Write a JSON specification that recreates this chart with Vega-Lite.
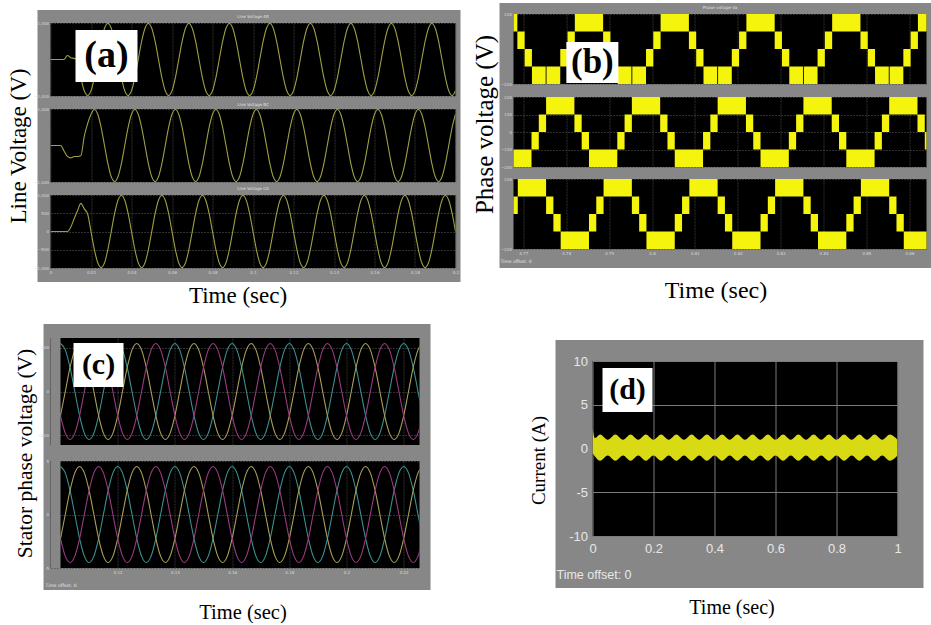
{
"$schema": "https://vega.github.io/schema/vega-lite/v6.json",
"padding": {"left": 6.5, "top": 3, "right": 0, "bottom": 0},
"background": "#ffffff",
"config": {
  "view": {"stroke": null},
  "concat": {"spacing": 0},
  "axis": {"domain": false, "ticks": false, "labelFont": "DejaVu Sans", "labelFontSize": 4, "labelColor": "#dcdcdc", "labelPadding": 2, "labelFlush": false, "gridColor": "#505050", "gridWidth": 0.6, "gridDash": [2, 1], "titleFont": "Liberation Serif", "titleFontWeight": "normal", "titleColor": "#000000", "titleBaseline": "middle"},
  "title": {"font": "DejaVu Sans", "fontSize": 4, "fontWeight": "normal", "color": "#e0e0e0", "offset": 2, "frame": "group"}
},
"datasets": {
"A": [
{"t":0,"p":0,"q":0,"r":0},{"t":0.00167,"p":0,"q":0,"r":0},{"t":0.00333,"p":0,"q":0,"r":0},{"t":0.005,"p":0,"q":0,"r":0},{"t":0.00667,"p":0,"q":-150,"r":0},{"t":0.00833,"p":110,"q":-300,"r":0},{"t":0.01,"p":50,"q":-340,"r":120},{"t":0.01167,"p":30,"q":-300,"r":350},{"t":0.01333,"p":0,"q":-300,"r":570},{"t":0.015,"p":-495,"q":-280,"r":770},{"t":0.01667,"p":-857,"q":250,"r":620},{"t":0.01833,"p":-990,"q":600,"r":480},
{"t":0.02,"p":-857,"q":857,"r":0},{"t":0.02167,"p":-495,"q":990,"r":-495},{"t":0.02333,"p":0,"q":857,"r":-857},{"t":0.025,"p":495,"q":495,"r":-990},{"t":0.02667,"p":857,"q":0,"r":-857},{"t":0.02833,"p":990,"q":-495,"r":-495},{"t":0.03,"p":857,"q":-857,"r":0},{"t":0.03167,"p":495,"q":-990,"r":495},{"t":0.03333,"p":0,"q":-857,"r":857},{"t":0.035,"p":-495,"q":-495,"r":990},{"t":0.03667,"p":-857,"q":0,"r":857},{"t":0.03833,"p":-990,"q":495,"r":495},
{"t":0.04,"p":-857,"q":857,"r":0},{"t":0.04167,"p":-495,"q":990,"r":-495},{"t":0.04333,"p":0,"q":857,"r":-857},{"t":0.045,"p":495,"q":495,"r":-990},{"t":0.04667,"p":857,"q":0,"r":-857},{"t":0.04833,"p":990,"q":-495,"r":-495},{"t":0.05,"p":857,"q":-857,"r":0},{"t":0.05167,"p":495,"q":-990,"r":495},{"t":0.05333,"p":0,"q":-857,"r":857},{"t":0.055,"p":-495,"q":-495,"r":990},{"t":0.05667,"p":-857,"q":0,"r":857},{"t":0.05833,"p":-990,"q":495,"r":495},
{"t":0.06,"p":-857,"q":857,"r":0},{"t":0.06167,"p":-495,"q":990,"r":-495},{"t":0.06333,"p":0,"q":857,"r":-857},{"t":0.065,"p":495,"q":495,"r":-990},{"t":0.06667,"p":857,"q":0,"r":-857},{"t":0.06833,"p":990,"q":-495,"r":-495},{"t":0.07,"p":857,"q":-857,"r":0},{"t":0.07167,"p":495,"q":-990,"r":495},{"t":0.07333,"p":0,"q":-857,"r":857},{"t":0.075,"p":-495,"q":-495,"r":990},{"t":0.07667,"p":-857,"q":0,"r":857},{"t":0.07833,"p":-990,"q":495,"r":495},
{"t":0.08,"p":-857,"q":857,"r":0},{"t":0.08167,"p":-495,"q":990,"r":-495},{"t":0.08333,"p":0,"q":857,"r":-857},{"t":0.085,"p":495,"q":495,"r":-990},{"t":0.08667,"p":857,"q":0,"r":-857},{"t":0.08833,"p":990,"q":-495,"r":-495},{"t":0.09,"p":857,"q":-857,"r":0},{"t":0.09167,"p":495,"q":-990,"r":495},{"t":0.09333,"p":0,"q":-857,"r":857},{"t":0.095,"p":-495,"q":-495,"r":990},{"t":0.09667,"p":-857,"q":0,"r":857},{"t":0.09833,"p":-990,"q":495,"r":495},
{"t":0.1,"p":-857,"q":857,"r":0},{"t":0.10167,"p":-495,"q":990,"r":-495},{"t":0.10333,"p":0,"q":857,"r":-857},{"t":0.105,"p":495,"q":495,"r":-990},{"t":0.10667,"p":857,"q":0,"r":-857},{"t":0.10833,"p":990,"q":-495,"r":-495},{"t":0.11,"p":857,"q":-857,"r":0},{"t":0.11167,"p":495,"q":-990,"r":495},{"t":0.11333,"p":0,"q":-857,"r":857},{"t":0.115,"p":-495,"q":-495,"r":990},{"t":0.11667,"p":-857,"q":0,"r":857},{"t":0.11833,"p":-990,"q":495,"r":495},
{"t":0.12,"p":-857,"q":857,"r":0},{"t":0.12167,"p":-495,"q":990,"r":-495},{"t":0.12333,"p":0,"q":857,"r":-857},{"t":0.125,"p":495,"q":495,"r":-990},{"t":0.12667,"p":857,"q":0,"r":-857},{"t":0.12833,"p":990,"q":-495,"r":-495},{"t":0.13,"p":857,"q":-857,"r":0},{"t":0.13167,"p":495,"q":-990,"r":495},{"t":0.13333,"p":0,"q":-857,"r":857},{"t":0.135,"p":-495,"q":-495,"r":990},{"t":0.13667,"p":-857,"q":0,"r":857},{"t":0.13833,"p":-990,"q":495,"r":495},
{"t":0.14,"p":-857,"q":857,"r":0},{"t":0.14167,"p":-495,"q":990,"r":-495},{"t":0.14333,"p":0,"q":857,"r":-857},{"t":0.145,"p":495,"q":495,"r":-990},{"t":0.14667,"p":857,"q":0,"r":-857},{"t":0.14833,"p":990,"q":-495,"r":-495},{"t":0.15,"p":857,"q":-857,"r":0},{"t":0.15167,"p":495,"q":-990,"r":495},{"t":0.15333,"p":0,"q":-857,"r":857},{"t":0.155,"p":-495,"q":-495,"r":990},{"t":0.15667,"p":-857,"q":0,"r":857},{"t":0.15833,"p":-990,"q":495,"r":495},
{"t":0.16,"p":-857,"q":857,"r":0},{"t":0.16167,"p":-495,"q":990,"r":-495},{"t":0.16333,"p":0,"q":857,"r":-857},{"t":0.165,"p":495,"q":495,"r":-990},{"t":0.16667,"p":857,"q":0,"r":-857},{"t":0.16833,"p":990,"q":-495,"r":-495},{"t":0.17,"p":857,"q":-857,"r":0},{"t":0.17167,"p":495,"q":-990,"r":495},{"t":0.17333,"p":0,"q":-857,"r":857},{"t":0.175,"p":-495,"q":-495,"r":990},{"t":0.17667,"p":-857,"q":0,"r":857},{"t":0.17833,"p":-990,"q":495,"r":495},
{"t":0.18,"p":-857,"q":857,"r":0},{"t":0.18167,"p":-495,"q":990,"r":-495},{"t":0.18333,"p":0,"q":857,"r":-857},{"t":0.185,"p":495,"q":495,"r":-990},{"t":0.18667,"p":857,"q":0,"r":-857},{"t":0.18833,"p":990,"q":-495,"r":-495},{"t":0.19,"p":857,"q":-857,"r":0},{"t":0.19167,"p":495,"q":-990,"r":495},{"t":0.19333,"p":0,"q":-857,"r":857},{"t":0.195,"p":-495,"q":-495,"r":990},{"t":0.19667,"p":-857,"q":0,"r":857},{"t":0.19833,"p":-990,"q":495,"r":495},
{"t":0.2,"p":-857,"q":857,"r":0}
],
"C": [
{"t":0.1,"q":220,"o":-110,"m":-110},{"t":0.10167,"q":190.5,"o":0,"m":-190.5},{"t":0.10333,"q":110,"o":110,"m":-220},{"t":0.105,"q":0,"o":190.5,"m":-190.5},{"t":0.10667,"q":-110,"o":220,"m":-110},{"t":0.10833,"q":-190.5,"o":190.5,"m":0},{"t":0.11,"q":-220,"o":110,"m":110},{"t":0.11167,"q":-190.5,"o":0,"m":190.5},{"t":0.11333,"q":-110,"o":-110,"m":220},{"t":0.115,"q":0,"o":-190.5,"m":190.5},{"t":0.11667,"q":110,"o":-220,"m":110},{"t":0.11833,"q":190.5,"o":-190.5,"m":0},
{"t":0.12,"q":220,"o":-110,"m":-110},{"t":0.12167,"q":190.5,"o":0,"m":-190.5},{"t":0.12333,"q":110,"o":110,"m":-220},{"t":0.125,"q":0,"o":190.5,"m":-190.5},{"t":0.12667,"q":-110,"o":220,"m":-110},{"t":0.12833,"q":-190.5,"o":190.5,"m":0},{"t":0.13,"q":-220,"o":110,"m":110},{"t":0.13167,"q":-190.5,"o":0,"m":190.5},{"t":0.13333,"q":-110,"o":-110,"m":220},{"t":0.135,"q":0,"o":-190.5,"m":190.5},{"t":0.13667,"q":110,"o":-220,"m":110},{"t":0.13833,"q":190.5,"o":-190.5,"m":0},
{"t":0.14,"q":220,"o":-110,"m":-110},{"t":0.14167,"q":190.5,"o":0,"m":-190.5},{"t":0.14333,"q":110,"o":110,"m":-220},{"t":0.145,"q":0,"o":190.5,"m":-190.5},{"t":0.14667,"q":-110,"o":220,"m":-110},{"t":0.14833,"q":-190.5,"o":190.5,"m":0},{"t":0.15,"q":-220,"o":110,"m":110},{"t":0.15167,"q":-190.5,"o":0,"m":190.5},{"t":0.15333,"q":-110,"o":-110,"m":220},{"t":0.155,"q":0,"o":-190.5,"m":190.5},{"t":0.15667,"q":110,"o":-220,"m":110},{"t":0.15833,"q":190.5,"o":-190.5,"m":0},
{"t":0.16,"q":220,"o":-110,"m":-110},{"t":0.16167,"q":190.5,"o":0,"m":-190.5},{"t":0.16333,"q":110,"o":110,"m":-220},{"t":0.165,"q":0,"o":190.5,"m":-190.5},{"t":0.16667,"q":-110,"o":220,"m":-110},{"t":0.16833,"q":-190.5,"o":190.5,"m":0},{"t":0.17,"q":-220,"o":110,"m":110},{"t":0.17167,"q":-190.5,"o":0,"m":190.5},{"t":0.17333,"q":-110,"o":-110,"m":220},{"t":0.175,"q":0,"o":-190.5,"m":190.5},{"t":0.17667,"q":110,"o":-220,"m":110},{"t":0.17833,"q":190.5,"o":-190.5,"m":0},
{"t":0.18,"q":220,"o":-110,"m":-110},{"t":0.18167,"q":190.5,"o":0,"m":-190.5},{"t":0.18333,"q":110,"o":110,"m":-220},{"t":0.185,"q":0,"o":190.5,"m":-190.5},{"t":0.18667,"q":-110,"o":220,"m":-110},{"t":0.18833,"q":-190.5,"o":190.5,"m":0},{"t":0.19,"q":-220,"o":110,"m":110},{"t":0.19167,"q":-190.5,"o":0,"m":190.5},{"t":0.19333,"q":-110,"o":-110,"m":220},{"t":0.195,"q":0,"o":-190.5,"m":190.5},{"t":0.19667,"q":110,"o":-220,"m":110},{"t":0.19833,"q":190.5,"o":-190.5,"m":0},
{"t":0.2,"q":220,"o":-110,"m":-110},{"t":0.20167,"q":190.5,"o":0,"m":-190.5},{"t":0.20333,"q":110,"o":110,"m":-220},{"t":0.205,"q":0,"o":190.5,"m":-190.5},{"t":0.20667,"q":-110,"o":220,"m":-110},{"t":0.20833,"q":-190.5,"o":190.5,"m":0},{"t":0.21,"q":-220,"o":110,"m":110},{"t":0.21167,"q":-190.5,"o":0,"m":190.5},{"t":0.21333,"q":-110,"o":-110,"m":220},{"t":0.215,"q":0,"o":-190.5,"m":190.5},{"t":0.21667,"q":110,"o":-220,"m":110},{"t":0.21833,"q":190.5,"o":-190.5,"m":0},
{"t":0.22,"q":220,"o":-110,"m":-110},{"t":0.22167,"q":190.5,"o":0,"m":-190.5},{"t":0.22333,"q":110,"o":110,"m":-220},{"t":0.225,"q":0,"o":190.5,"m":-190.5},{"t":0.22667,"q":-110,"o":220,"m":-110}
],
"B": [
{"s":"b1","a":0.762,"b":0.7686,"l":100,"h":200},{"s":"b1","a":0.7686,"b":0.7703,"l":0,"h":100},{"s":"b1","a":0.7703,"b":0.772,"l":-100,"h":0},{"s":"b1","a":0.772,"b":0.7752,"l":-200,"h":-100},{"s":"b1","a":0.7754,"b":0.7786,"l":-200,"h":-100},{"s":"b1","a":0.7786,"b":0.7803,"l":-100,"h":0},{"s":"b1","a":0.7803,"b":0.782,"l":0,"h":100},
{"s":"b1","a":0.782,"b":0.7886,"l":100,"h":200},{"s":"b1","a":0.7886,"b":0.7903,"l":0,"h":100},{"s":"b1","a":0.7903,"b":0.792,"l":-100,"h":0},{"s":"b1","a":0.792,"b":0.7952,"l":-200,"h":-100},{"s":"b1","a":0.7954,"b":0.7986,"l":-200,"h":-100},{"s":"b1","a":0.7986,"b":0.8003,"l":-100,"h":0},{"s":"b1","a":0.8003,"b":0.802,"l":0,"h":100},
{"s":"b1","a":0.802,"b":0.8086,"l":100,"h":200},{"s":"b1","a":0.8086,"b":0.8103,"l":0,"h":100},{"s":"b1","a":0.8103,"b":0.812,"l":-100,"h":0},{"s":"b1","a":0.812,"b":0.8152,"l":-200,"h":-100},{"s":"b1","a":0.8154,"b":0.8186,"l":-200,"h":-100},{"s":"b1","a":0.8186,"b":0.8203,"l":-100,"h":0},{"s":"b1","a":0.8203,"b":0.822,"l":0,"h":100},
{"s":"b1","a":0.822,"b":0.8286,"l":100,"h":200},{"s":"b1","a":0.8286,"b":0.8303,"l":0,"h":100},{"s":"b1","a":0.8303,"b":0.832,"l":-100,"h":0},{"s":"b1","a":0.832,"b":0.8352,"l":-200,"h":-100},{"s":"b1","a":0.8354,"b":0.8386,"l":-200,"h":-100},{"s":"b1","a":0.8386,"b":0.8403,"l":-100,"h":0},{"s":"b1","a":0.8403,"b":0.842,"l":0,"h":100},
{"s":"b1","a":0.842,"b":0.8486,"l":100,"h":200},{"s":"b1","a":0.8486,"b":0.8503,"l":0,"h":100},{"s":"b1","a":0.8503,"b":0.852,"l":-100,"h":0},{"s":"b1","a":0.852,"b":0.8552,"l":-200,"h":-100},{"s":"b1","a":0.8554,"b":0.8586,"l":-200,"h":-100},{"s":"b1","a":0.8586,"b":0.8603,"l":-100,"h":0},{"s":"b1","a":0.8603,"b":0.862,"l":0,"h":100},
{"s":"b1","a":0.862,"b":0.8686,"l":100,"h":200},
{"s":"b2","a":0.7653,"b":0.7719,"l":-200,"h":-100},{"s":"b2","a":0.7719,"b":0.7736,"l":-100,"h":0},{"s":"b2","a":0.7736,"b":0.7753,"l":0,"h":100},
{"s":"b2","a":0.7753,"b":0.7819,"l":100,"h":200},{"s":"b2","a":0.7819,"b":0.7836,"l":0,"h":100},{"s":"b2","a":0.7836,"b":0.7853,"l":-100,"h":0},{"s":"b2","a":0.7853,"b":0.7919,"l":-200,"h":-100},{"s":"b2","a":0.7919,"b":0.7936,"l":-100,"h":0},{"s":"b2","a":0.7936,"b":0.7953,"l":0,"h":100},
{"s":"b2","a":0.7953,"b":0.8019,"l":100,"h":200},{"s":"b2","a":0.8019,"b":0.8036,"l":0,"h":100},{"s":"b2","a":0.8036,"b":0.8053,"l":-100,"h":0},{"s":"b2","a":0.8053,"b":0.8119,"l":-200,"h":-100},{"s":"b2","a":0.8119,"b":0.8136,"l":-100,"h":0},{"s":"b2","a":0.8136,"b":0.8153,"l":0,"h":100},
{"s":"b2","a":0.8153,"b":0.8219,"l":100,"h":200},{"s":"b2","a":0.8219,"b":0.8236,"l":0,"h":100},{"s":"b2","a":0.8236,"b":0.8253,"l":-100,"h":0},{"s":"b2","a":0.8253,"b":0.8319,"l":-200,"h":-100},{"s":"b2","a":0.8319,"b":0.8336,"l":-100,"h":0},{"s":"b2","a":0.8336,"b":0.8353,"l":0,"h":100},
{"s":"b2","a":0.8353,"b":0.8419,"l":100,"h":200},{"s":"b2","a":0.8419,"b":0.8436,"l":0,"h":100},{"s":"b2","a":0.8436,"b":0.8453,"l":-100,"h":0},{"s":"b2","a":0.8453,"b":0.8519,"l":-200,"h":-100},{"s":"b2","a":0.8519,"b":0.8536,"l":-100,"h":0},{"s":"b2","a":0.8536,"b":0.8553,"l":0,"h":100},
{"s":"b2","a":0.8553,"b":0.8619,"l":100,"h":200},{"s":"b2","a":0.8619,"b":0.8636,"l":0,"h":100},{"s":"b2","a":0.8636,"b":0.8653,"l":-100,"h":0},
{"s":"b3","a":0.767,"b":0.7687,"l":0,"h":100},
{"s":"b3","a":0.7687,"b":0.7753,"l":100,"h":200},{"s":"b3","a":0.7753,"b":0.777,"l":0,"h":100},{"s":"b3","a":0.777,"b":0.7787,"l":-100,"h":0},{"s":"b3","a":0.7787,"b":0.7853,"l":-200,"h":-100},{"s":"b3","a":0.7853,"b":0.787,"l":-100,"h":0},{"s":"b3","a":0.787,"b":0.7887,"l":0,"h":100},
{"s":"b3","a":0.7887,"b":0.7953,"l":100,"h":200},{"s":"b3","a":0.7953,"b":0.797,"l":0,"h":100},{"s":"b3","a":0.797,"b":0.7987,"l":-100,"h":0},{"s":"b3","a":0.7987,"b":0.8053,"l":-200,"h":-100},{"s":"b3","a":0.8053,"b":0.807,"l":-100,"h":0},{"s":"b3","a":0.807,"b":0.8087,"l":0,"h":100},
{"s":"b3","a":0.8087,"b":0.8153,"l":100,"h":200},{"s":"b3","a":0.8153,"b":0.817,"l":0,"h":100},{"s":"b3","a":0.817,"b":0.8187,"l":-100,"h":0},{"s":"b3","a":0.8187,"b":0.8253,"l":-200,"h":-100},{"s":"b3","a":0.8253,"b":0.827,"l":-100,"h":0},{"s":"b3","a":0.827,"b":0.8287,"l":0,"h":100},
{"s":"b3","a":0.8287,"b":0.8353,"l":100,"h":200},{"s":"b3","a":0.8353,"b":0.837,"l":0,"h":100},{"s":"b3","a":0.837,"b":0.8387,"l":-100,"h":0},{"s":"b3","a":0.8387,"b":0.8453,"l":-200,"h":-100},{"s":"b3","a":0.8453,"b":0.847,"l":-100,"h":0},{"s":"b3","a":0.847,"b":0.8487,"l":0,"h":100},
{"s":"b3","a":0.8487,"b":0.8553,"l":100,"h":200},{"s":"b3","a":0.8553,"b":0.857,"l":0,"h":100},{"s":"b3","a":0.857,"b":0.8587,"l":-100,"h":0},{"s":"b3","a":0.8587,"b":0.8653,"l":-200,"h":-100}
],
"D": [
{"t":0,"h":2.3,"l":-0.5},{"t":0.008,"h":1.2,"l":-0.9},
{"t":0.025,"h":1.6,"l":-1.4},{"t":0.05,"h":1.0,"l":-0.8},{"t":0.075,"h":1.6,"l":-1.4},{"t":0.1,"h":1.0,"l":-0.8},{"t":0.125,"h":1.6,"l":-1.4},{"t":0.15,"h":1.0,"l":-0.8},{"t":0.175,"h":1.6,"l":-1.4},{"t":0.2,"h":1.0,"l":-0.8},
{"t":0.225,"h":1.6,"l":-1.4},{"t":0.25,"h":1.0,"l":-0.8},{"t":0.275,"h":1.6,"l":-1.4},{"t":0.3,"h":1.0,"l":-0.8},{"t":0.325,"h":1.6,"l":-1.4},{"t":0.35,"h":1.0,"l":-0.8},{"t":0.375,"h":1.6,"l":-1.4},{"t":0.4,"h":1.0,"l":-0.8},
{"t":0.425,"h":1.6,"l":-1.4},{"t":0.45,"h":1.0,"l":-0.8},{"t":0.475,"h":1.6,"l":-1.4},{"t":0.5,"h":1.0,"l":-0.8},{"t":0.525,"h":1.6,"l":-1.4},{"t":0.55,"h":1.0,"l":-0.8},{"t":0.575,"h":1.6,"l":-1.4},{"t":0.6,"h":1.0,"l":-0.8},
{"t":0.625,"h":1.6,"l":-1.4},{"t":0.65,"h":1.0,"l":-0.8},{"t":0.675,"h":1.6,"l":-1.4},{"t":0.7,"h":1.0,"l":-0.8},{"t":0.725,"h":1.6,"l":-1.4},{"t":0.75,"h":1.0,"l":-0.8},{"t":0.775,"h":1.6,"l":-1.4},{"t":0.8,"h":1.0,"l":-0.8},
{"t":0.825,"h":1.6,"l":-1.4},{"t":0.85,"h":1.0,"l":-0.8},{"t":0.875,"h":1.6,"l":-1.4},{"t":0.9,"h":1.0,"l":-0.8},{"t":0.925,"h":1.6,"l":-1.4},{"t":0.95,"h":1.0,"l":-0.8},{"t":0.975,"h":1.6,"l":-1.4},{"t":1.0,"h":1.0,"l":-0.8}
]
},
"spacing": 17,
"vconcat": [
{"spacing": 10, "hconcat": [
  {"spacing": 0, "bounds": "flush", "vconcat": [
    {"width": 405, "height": 20, "data": {"values": [{}]}, "mark": {"type": "rect", "color": "#878787", "clip": false},
     "encoding": {"x": {"datum": -0.00642, "scale": {"domain": [0, 0.2], "nice": false, "zero": false}, "axis": null}, "x2": {"datum": 0.20247},
                  "y": {"datum": -6097, "scale": {"domain": [1000, 1548], "nice": false, "zero": false}, "axis": null}, "y2": {"datum": 1356}}},
    {"width": 405, "height": 73, "view": {"fill": "#000000"}, "title": "Line Voltage AB", "layer": [
      {"data": {"name": "A"}, "mark": {"type": "line", "color": "#a09f44", "strokeWidth": 1.1, "interpolate": "monotone", "clip": true},
       "encoding": {"x": {"field": "t", "type": "quantitative", "scale": {"domain": [0, 0.2], "nice": false, "zero": false}, "axis": {"values": [0,0.02,0.04,0.06,0.08,0.1,0.12,0.14,0.16,0.18,0.2], "labels": false, "title": null}},
                    "y": {"field": "p", "type": "quantitative", "scale": {"domain": [-1000, 1000], "nice": false, "zero": false}, "axis": {"values": [-1000,-500,0,500,1000], "title": null}}}},
      {"data": {"values": [{}]}, "mark": {"type": "rect", "color": "#ffffff"}, "encoding": {"x": {"datum": 0.01235}, "x2": {"datum": 0.04296}, "y": {"datum": -617}, "y2": {"datum": 808}}},
      {"data": {"values": [{}]}, "mark": {"type": "text", "text": "(a)", "font": "Liberation Serif", "fontWeight": "bold", "fontSize": 38, "color": "#000000", "baseline": "middle", "align": "center"}, "encoding": {"x": {"datum": 0.02765}, "y": {"datum": 96}}}
    ]},
    {"width": 1, "height": 13, "data": {"values": []}, "mark": "point"},
    {"width": 405, "height": 73, "view": {"fill": "#000000"}, "layer": [
      {"data": {"name": "A"}, "mark": {"type": "line", "color": "#a09f44", "strokeWidth": 1.1, "interpolate": "monotone", "clip": true},
       "encoding": {"x": {"field": "t", "type": "quantitative", "scale": {"domain": [0, 0.2], "nice": false, "zero": false}, "axis": {"values": [0,0.02,0.04,0.06,0.08,0.1,0.12,0.14,0.16,0.18,0.2], "labels": false, "title": null}},
                    "y": {"field": "q", "type": "quantitative", "scale": {"domain": [-1000, 1000], "nice": false, "zero": false}, "axis": {"values": [-1000,-500,0,500,1000], "title": "Line Voltage (V)", "titleX": -32, "titleY": 36.5, "titleFontSize": 23}}}},
      {"data": {"values": [{}]}, "mark": {"type": "text", "text": "Line Voltage BC", "font": "DejaVu Sans", "fontSize": 4, "color": "#e0e0e0", "baseline": "middle", "align": "center"}, "encoding": {"x": {"datum": 0.1}, "y": {"datum": 1123}}}
    ]},
    {"width": 1, "height": 13, "data": {"values": []}, "mark": "point"},
    {"width": 405, "height": 73, "view": {"fill": "#000000"}, "title": "Line Voltage CA", "layer": [
      {"data": {"name": "A"}, "mark": {"type": "line", "color": "#a09f44", "strokeWidth": 1.1, "interpolate": "monotone", "clip": true},
       "encoding": {"x": {"field": "t", "type": "quantitative", "scale": {"domain": [0, 0.2], "nice": false, "zero": false}, "axis": {"values": [0,0.02,0.04,0.06,0.08,0.1,0.12,0.14,0.16,0.18,0.2], "format": "~g", "title": "Time (sec)", "titleX": 187, "titleY": 27, "titleFontSize": 23}},
                    "y": {"field": "r", "type": "quantitative", "scale": {"domain": [-1000, 1000], "nice": false, "zero": false}, "axis": {"values": [-1000,-500,0,500,1000], "title": null}}}}
    ]}
  ]},
  {"spacing": 0, "bounds": "flush", "vconcat": [
    {"width": 413, "height": 11, "data": {"values": [{}]}, "mark": {"type": "rect", "color": "#878787", "clip": false},
     "encoding": {"x": {"datum": 0.76444, "scale": {"domain": [0.7677, 0.864], "nice": false, "zero": false}, "axis": null}, "x2": {"datum": 0.8653},
                  "y": {"datum": -1251, "scale": {"domain": [200, 262.86], "nice": false, "zero": false}, "axis": null}, "y2": {"datum": 262.86}}},
    {"width": 413, "height": 70, "view": {"fill": "#000000"}, "title": "Phase voltage Va", "layer": [
      {"data": {"name": "B"}, "transform": [{"filter": "datum.s == 'b1'"}], "mark": {"type": "rect", "color": "#f4f40c", "clip": true},
       "encoding": {"x": {"field": "a", "type": "quantitative", "scale": {"domain": [0.7677, 0.864], "nice": false, "zero": false}, "axis": {"values": [0.77,0.78,0.79,0.8,0.81,0.82,0.83,0.84,0.85,0.86], "labels": false, "title": null}}, "x2": {"field": "b"},
                    "y": {"field": "l", "type": "quantitative", "scale": {"domain": [-200, 200], "nice": false, "zero": false}, "axis": {"values": [-200,-100,0,100,200], "title": null}}, "y2": {"field": "h"}}},
      {"data": {"values": [{}]}, "mark": {"type": "rect", "color": "#ffffff"}, "encoding": {"x": {"datum": 0.78003}, "x2": {"datum": 0.79215}, "y": {"datum": -194}, "y2": {"datum": 40}}},
      {"data": {"values": [{}]}, "mark": {"type": "text", "text": "(b)", "font": "Liberation Serif", "fontWeight": "bold", "fontSize": 35, "color": "#000000", "baseline": "middle", "align": "center"}, "encoding": {"x": {"datum": 0.78609}, "y": {"datum": -77}}}
    ]},
    {"width": 1, "height": 13, "data": {"values": []}, "mark": "point"},
    {"width": 413, "height": 70, "view": {"fill": "#000000"}, "layer": [
      {"data": {"name": "B"}, "transform": [{"filter": "datum.s == 'b2'"}], "mark": {"type": "rect", "color": "#f4f40c", "clip": true},
       "encoding": {"x": {"field": "a", "type": "quantitative", "scale": {"domain": [0.7677, 0.864], "nice": false, "zero": false}, "axis": {"values": [0.77,0.78,0.79,0.8,0.81,0.82,0.83,0.84,0.85,0.86], "labels": false, "title": null}}, "x2": {"field": "b"},
                    "y": {"field": "l", "type": "quantitative", "scale": {"domain": [-200, 200], "nice": false, "zero": false}, "axis": {"values": [-200,-100,0,100,200], "title": "Phase voltage (V)", "titleX": -29, "titleY": 27, "titleFontSize": 25}}, "y2": {"field": "h"}}}
    ]},
    {"width": 1, "height": 12, "data": {"values": []}, "mark": "point"},
    {"width": 413, "height": 70, "view": {"fill": "#000000"}, "layer": [
      {"data": {"name": "B"}, "transform": [{"filter": "datum.s == 'b3'"}], "mark": {"type": "rect", "color": "#f4f40c", "clip": true},
       "encoding": {"x": {"field": "a", "type": "quantitative", "scale": {"domain": [0.7677, 0.864], "nice": false, "zero": false}, "axis": {"values": [0.77,0.78,0.79,0.8,0.81,0.82,0.83,0.84,0.85,0.86], "format": "~g", "title": "Time (sec)", "titleX": 202, "titleY": 41, "titleFontSize": 24}}, "x2": {"field": "b"},
                    "y": {"field": "l", "type": "quantitative", "scale": {"domain": [-200, 200], "nice": false, "zero": false}, "axis": {"values": [-200,-100,0,100,200], "title": null}}, "y2": {"field": "h"}}},
      {"data": {"values": [{}]}, "mark": {"type": "text", "text": "Time offset:  0", "font": "DejaVu Sans", "fontSize": 4.5, "color": "#e6e6e6", "align": "left", "baseline": "middle"}, "encoding": {"x": {"datum": 0.76467}, "y": {"datum": -274}}}
    ]}
  ]}
]},
{"spacing": 98, "hconcat": [
  {"spacing": 0, "bounds": "flush", "vconcat": [
    {"width": 369, "height": 14, "data": {"values": [{}]}, "mark": {"type": "rect", "color": "#878787", "clip": false},
     "encoding": {"x": {"datum": 0.09406, "scale": {"domain": [0.0965, 0.22552], "nice": false, "zero": false}, "axis": null}, "x2": {"datum": 0.22937},
                  "y": {"datum": -909, "scale": {"domain": [245, 309.11], "nice": false, "zero": false}, "axis": null}, "y2": {"datum": 309.11}}},
    {"width": 369, "height": 107, "view": {"fill": "#000000"}, "layer": [
      {"data": {"name": "C"}, "transform": [{"fold": ["q", "o", "m"], "as": ["ph", "v"]}], "mark": {"type": "line", "strokeWidth": 1.1, "interpolate": "monotone", "clip": true},
       "encoding": {"x": {"field": "t", "type": "quantitative", "scale": {"domain": [0.0965, 0.22552], "nice": false, "zero": false}, "axis": {"values": [0.12,0.14,0.16,0.18,0.2,0.22], "labels": false, "title": null}},
                    "y": {"field": "v", "type": "quantitative", "scale": {"domain": [-245, 245], "nice": false, "zero": false}, "axis": {"values": [-200,-150,-100,-50,0,50,100,150,200], "title": "Stator phase voltage (V)", "titleX": -25, "titleY": 115, "titleFontSize": 21.5}},
                    "color": {"field": "ph", "type": "nominal", "scale": {"domain": ["q", "o", "m"], "range": ["#3b9290", "#a89f58", "#9c3a80"]}, "legend": null}}},
      {"data": {"values": [{}]}, "mark": {"type": "rect", "color": "#878787"}, "encoding": {"x": {"datum": 0.0965}, "x2": {"datum": 0.1}, "y": {"datum": -245}, "y2": {"datum": 245}}},
      {"data": {"values": [{}]}, "mark": {"type": "rect", "color": "#ffffff"}, "encoding": {"x": {"datum": 0.10455}, "x2": {"datum": 0.12203}, "y": {"datum": 20.6}, "y2": {"datum": 222}}},
      {"data": {"values": [{}]}, "mark": {"type": "text", "text": "(c)", "font": "Liberation Serif", "fontWeight": "bold", "fontSize": 30, "color": "#000000", "baseline": "middle", "align": "center"}, "encoding": {"x": {"datum": 0.11329}, "y": {"datum": 121}}}
    ]},
    {"width": 1, "height": 16, "data": {"values": []}, "mark": "point"},
    {"width": 369, "height": 107, "view": {"fill": "#000000"}, "layer": [
      {"data": {"name": "C"}, "transform": [{"fold": ["q", "o", "m"], "as": ["ph", "v"]}], "mark": {"type": "line", "strokeWidth": 1.1, "interpolate": "monotone", "clip": true},
       "encoding": {"x": {"field": "t", "type": "quantitative", "scale": {"domain": [0.0965, 0.22552], "nice": false, "zero": false}, "axis": {"values": [0.12,0.14,0.16,0.18,0.2,0.22], "format": "~g", "title": "Time (sec)", "titleX": 192, "titleY": 44, "titleFontSize": 20.5}},
                    "y": {"field": "v", "type": "quantitative", "scale": {"domain": [-245, 245], "nice": false, "zero": false}, "axis": {"values": [-245, 0, 245], "labelExpr": "datum.value > 1 ? '5' : (datum.value < -1 ? '-5' : '0')", "title": null}},
                    "color": {"field": "ph", "type": "nominal", "scale": {"domain": ["q", "o", "m"], "range": ["#3b9290", "#a89f58", "#9c3a80"]}, "legend": null}}},
      {"data": {"values": [{}]}, "mark": {"type": "rect", "color": "#878787"}, "encoding": {"x": {"datum": 0.0965}, "x2": {"datum": 0.1}, "y": {"datum": -245}, "y2": {"datum": 245}}},
      {"data": {"values": [{}]}, "mark": {"type": "text", "text": "Time offset:  0", "font": "DejaVu Sans", "fontSize": 4.5, "color": "#e6e6e6", "align": "left", "baseline": "middle"}, "encoding": {"x": {"datum": 0.09476}, "y": {"datum": -327}}}
    ]}
  ]},
  {"spacing": 0, "bounds": "flush", "vconcat": [
    {"width": 305, "height": 37, "data": {"values": [{}]}, "mark": {"type": "rect", "color": "#878787", "clip": false},
     "encoding": {"x": {"datum": -0.1213, "scale": {"domain": [0, 1], "nice": false, "zero": false}, "axis": null}, "x2": {"datum": 1.0852},
                  "y": {"datum": -15.94, "scale": {"domain": [10, 14.229], "nice": false, "zero": false}, "axis": null}, "y2": {"datum": 12.4}}},
    {"width": 305, "height": 175, "view": {"fill": "#000000"}, "layer": [
      {"data": {"name": "D"}, "mark": {"type": "area", "color": "#d9d914", "interpolate": "monotone", "clip": true},
       "encoding": {"x": {"field": "t", "type": "quantitative", "scale": {"domain": [0, 1], "nice": false, "zero": false}, "axis": {"values": [0,0.2,0.4,0.6,0.8,1], "format": "~g", "labelFontSize": 13, "labelColor": "#e8e8e8", "labelFont": "Liberation Sans", "labelPadding": 6, "gridColor": "#7c7c7c", "gridDash": [], "gridWidth": 1, "title": "Time (sec)", "titleX": 139, "titleY": 71, "titleFontSize": 20}},
                    "y": {"field": "h", "type": "quantitative", "scale": {"domain": [-10, 10], "nice": false, "zero": false}, "axis": {"values": [-10,-5,0,5,10], "labelExpr": "'' + datum.value", "labelFontSize": 13, "labelColor": "#e8e8e8", "labelFont": "Liberation Sans", "labelPadding": 5, "gridColor": "#7c7c7c", "gridDash": [], "gridWidth": 1, "title": "Current (A)", "titleX": -54, "titleY": 99, "titleFontSize": 19}},
                    "y2": {"field": "l"}}},
      {"data": {"values": [{}]}, "mark": {"type": "rect", "color": "#ffffff"}, "encoding": {"x": {"datum": 0.0328}, "x2": {"datum": 0.1967}, "y": {"datum": 4.17}, "y2": {"datum": 9.2}}},
      {"data": {"values": [{}]}, "mark": {"type": "text", "text": "(d)", "font": "Liberation Serif", "fontWeight": "bold", "fontSize": 30, "color": "#000000", "baseline": "middle", "align": "center"}, "encoding": {"x": {"datum": 0.1148}, "y": {"datum": 6.69}}},
      {"data": {"values": [{}]}, "mark": {"type": "text", "text": "Time offset:  0", "font": "Liberation Sans", "fontSize": 12.5, "color": "#e8e8e8", "align": "left", "baseline": "middle"}, "encoding": {"x": {"datum": -0.118}, "y": {"datum": -14.46}}}
    ]}
  ]}
]}
]
}
